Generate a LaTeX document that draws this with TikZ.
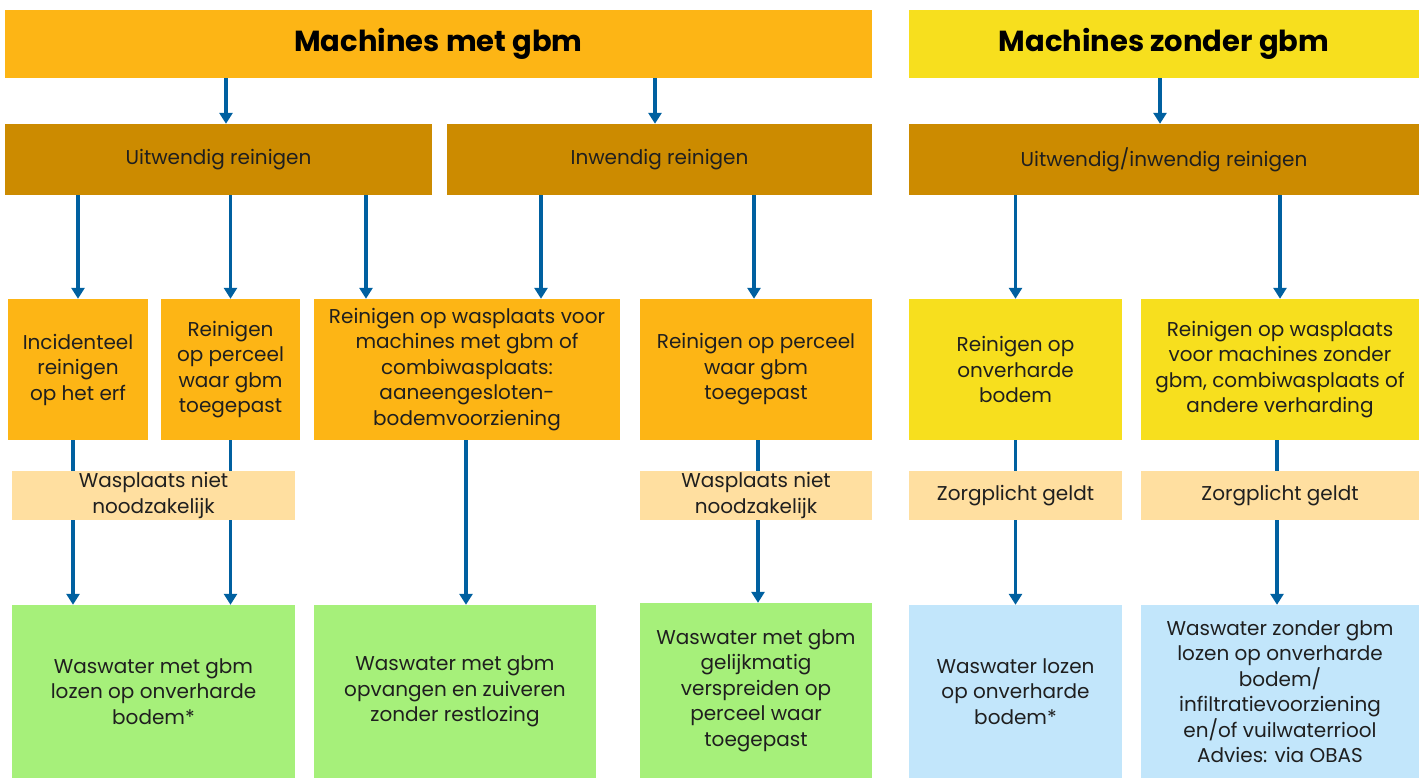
\documentclass[tikz,border=0pt]{standalone}
\usepackage{fontspec}
\setmainfont{Poppins}
\usetikzlibrary{arrows.meta}
\definecolor{gbmorange}{RGB}{253,181,21}
\definecolor{gbmgold}{RGB}{204,139,0}
\definecolor{gbmyellow}{RGB}{247,223,30}
\definecolor{tagpeach}{RGB}{255,223,160}
\definecolor{wwgreen}{RGB}{166,240,122}
\definecolor{wwblue}{RGB}{194,230,251}
\definecolor{arrblue}{RGB}{0,96,160}
\begin{document}
\begin{tikzpicture}[x=1pt, y=-1pt,
    box/.style={fill=#1, inner sep=0pt, align=center, text=black!88,
      font=\fontsize{20}{25.5}\selectfont},
    head/.style={fill=#1, inner sep=0pt, minimum height=68pt,
      font=\fontsize{29}{32}\selectfont\bfseries},
    arr/.style={arrblue, line width=3.5pt,
      -{Triangle[width=13pt,length=11pt]}}]
    \useasboundingbox (0,0) rectangle (1423,778);
    % Headers
    \node[head=gbmorange, minimum width=867pt] (met) at (438.5,44) {Machines met gbm};
    \node[head=gbmyellow, minimum width=510pt] (zonder) at (1164,44) {Machines zonder gbm};
    % Cleaning type
    \node[box=gbmgold, minimum width=427pt, minimum height=71pt] (uit) at (218.5,159.5) {Uitwendig reinigen};
    \node[box=gbmgold, minimum width=425pt, minimum height=71pt] (inw) at (659.5,159.5) {Inwendig reinigen};
    \node[box=gbmgold, minimum width=510pt, minimum height=71pt] (uitinw) at (1164,159.5) {Uitwendig/inwendig reinigen};
    % Where
    \node[box=gbmorange, minimum width=140pt, minimum height=141pt] (erf) at (78,369.5)
    {Incidenteel\\reinigen\\op het erf};
    \node[box=gbmorange, minimum width=139pt, minimum height=141pt] (perc) at (230.5,369.5)
    {Reinigen\\op perceel\\waar gbm\\toegepast};
    \node[box=gbmorange, minimum width=306pt, minimum height=141pt] (wasp) at (467,369.5)
    {Reinigen op wasplaats voor\\machines met gbm of\\combiwasplaats:\\aaneengesloten-\\bodemvoorziening};
    \node[box=gbmorange, minimum width=232pt, minimum height=141pt] (percb) at (756,369.5)
    {Reinigen op perceel\\waar gbm\\toegepast};
    \node[box=gbmyellow, minimum width=213pt, minimum height=141pt] (onv) at (1015.5,369.5)
    {Reinigen op\\onverharde\\bodem};
    \node[box=gbmyellow, minimum width=278pt, minimum height=141pt] (waspz) at (1280,369.5)
    {Reinigen op wasplaats\\voor machines zonder\\gbm, combiwasplaats of\\andere verharding};
    % Waswater
    \node[box=wwgreen, minimum width=283pt, minimum height=173pt] (ww1) at (153.5,691.5)
    {Waswater met gbm\\lozen op onverharde\\bodem*};
    \node[box=wwgreen, minimum width=282pt, minimum height=173pt] (ww2) at (455,691.5)
    {Waswater met gbm\\opvangen en zuiveren\\zonder restlozing};
    \node[box=wwgreen, minimum width=232pt, minimum height=175pt] (ww3) at (756,690.5)
    {Waswater met gbm\\gelijkmatig\\verspreiden op\\perceel waar\\toegepast};
    \node[box=wwblue, minimum width=213pt, minimum height=173pt] (ww4) at (1015.5,691.5)
    {Waswater lozen\\op onverharde\\bodem*};
    \node[box=wwblue, minimum width=278pt, minimum height=173pt] (ww5) at (1280,691.5)
    {Waswater zonder gbm\\lozen op onverharde\\bodem/\\infiltratievoorziening\\en/of vuilwaterriool\\Advies: via OBAS};
    % Arrows
    \draw[arr] ([xshift=7.5pt]uit.north |- met.south) -- ([xshift=7.5pt]uit.north);
    \draw[arr] ([xshift=-4.5pt]inw.north |- met.south) -- ([xshift=-4.5pt]inw.north);
    \draw[arr] ([xshift=-4pt]uitinw.north |- zonder.south) -- ([xshift=-4pt]uitinw.north);
    \draw[arr] (erf.north |- uit.south) -- (erf.north);
    \draw[arr] (perc.north |- uit.south) -- (perc.north);
    \draw[arr] ([xshift=-101pt]wasp.north |- uit.south) -- ([xshift=-101pt]wasp.north);
    \draw[arr] ([xshift=74pt]wasp.north |- inw.south) -- ([xshift=74pt]wasp.north);
    \draw[arr] ([xshift=-2pt]percb.north |- inw.south) -- ([xshift=-2pt]percb.north);
    \draw[arr] (onv.north |- uitinw.south) -- (onv.north);
    \draw[arr] (waspz.north |- uitinw.south) -- (waspz.north);
    \draw[arr] ([xshift=-5pt]erf.south) -- ([xshift=-5pt]erf.south |- ww1.north);
    \draw[arr] (perc.south) -- (perc.south |- ww1.north);
    \draw[arr] ([xshift=-1pt]wasp.south) -- ([xshift=-1pt]wasp.south |- ww2.north);
    \draw[arr] ([xshift=2pt]percb.south) -- ([xshift=2pt]percb.south |- ww3.north);
    \draw[arr] (onv.south) -- (ww4.north);
    \draw[arr] ([xshift=-3pt]waspz.south) -- ([xshift=-3pt]waspz.south |- ww5.north);
    % Notes over the lines
    \node[box=tagpeach, minimum width=283pt, minimum height=49pt] (nietA) at (153.5,495.5)
    {Wasplaats niet\\noodzakelijk};
    \node[box=tagpeach, minimum width=232pt, minimum height=49pt] (nietB) at (756,495.5)
    {Wasplaats niet\\noodzakelijk};
    \node[box=tagpeach, minimum width=213pt, minimum height=49pt] (zorgA) at (1015.5,495.5)
    {Zorgplicht geldt};
    \node[box=tagpeach, minimum width=278pt, minimum height=49pt] (zorgB) at (1280,495.5)
    {Zorgplicht geldt};
\end{tikzpicture}
\end{document}
